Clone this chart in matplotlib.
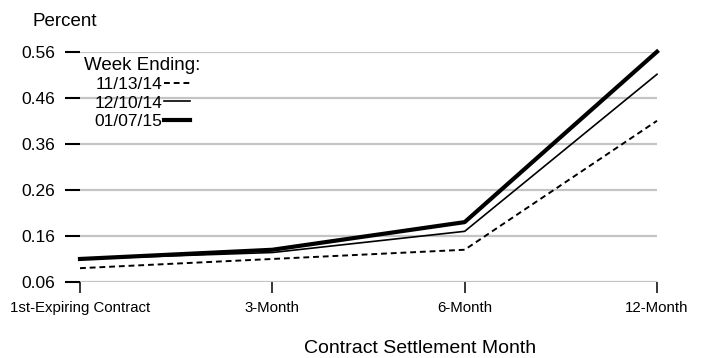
import matplotlib
matplotlib.use("Agg")
import matplotlib.pyplot as plt

plt.rcParams['font.family'] = ['Liberation Sans', 'DejaVu Sans']

months = ['1st-Expiring Contract', '3-Month', '6-Month', '12-Month']
week_111314 = [0.09, 0.11, 0.13, 0.41]
week_121014 = [0.11, 0.124, 0.17, 0.511]
week_010715 = [0.11, 0.13, 0.19, 0.56]
yticks = [0.06, 0.16, 0.26, 0.36, 0.46, 0.56]

fig = plt.figure(figsize=(7.04, 3.58), dpi=100)
ax = fig.add_axes([80/704, 1 - 282/358, (657-80)/704, (282-51.7)/358])

x = range(len(months))
ax.plot(x, week_111314, color='black', lw=1.4, ls=(0, (3, 2)), label='11/13/14', clip_on=False)
ax.plot(x, week_121014, color='black', lw=1.2, label='12/10/14', clip_on=False)
ax.plot(x, week_010715, color='black', lw=3.0, label='01/07/15', clip_on=False)

ax.set_xlim(0, 3)
ax.set_ylim(0.06, 0.56)
ax.set_yticks(yticks)
ax.set_yticklabels(['%.2f' % v for v in yticks], fontsize=12.5)
ax.set_xticks(list(x))
ax.set_xticklabels(months, fontsize=10.8)
for v in yticks:
    ax.axhline(v, color='#c4c4c4', lw=1.6, zorder=0)
for s in ax.spines.values():
    s.set_visible(False)
ax.tick_params(axis='y', length=11, width=1.5, pad=7, color='black')
ax.tick_params(axis='x', length=8, width=1.1, pad=6, color='black')

fig.text(33/704, 1 - 26/358, 'Percent', fontsize=13.5, ha='left', va='baseline')
fig.text(420/704, 1 - 353/358, 'Contract Settlement Month', fontsize=14, ha='center', va='baseline')

leg = ax.legend(loc='upper left', bbox_to_anchor=(84/704, 1 - 57/358), bbox_transform=fig.transFigure,
                frameon=False, markerfirst=False, title='Week Ending:', fontsize=12.5,
                title_fontsize=13.5, handlelength=1.5, handletextpad=0.05, labelspacing=0.18,
                borderpad=0, borderaxespad=0)

fig.savefig('out.png', dpi=100)
